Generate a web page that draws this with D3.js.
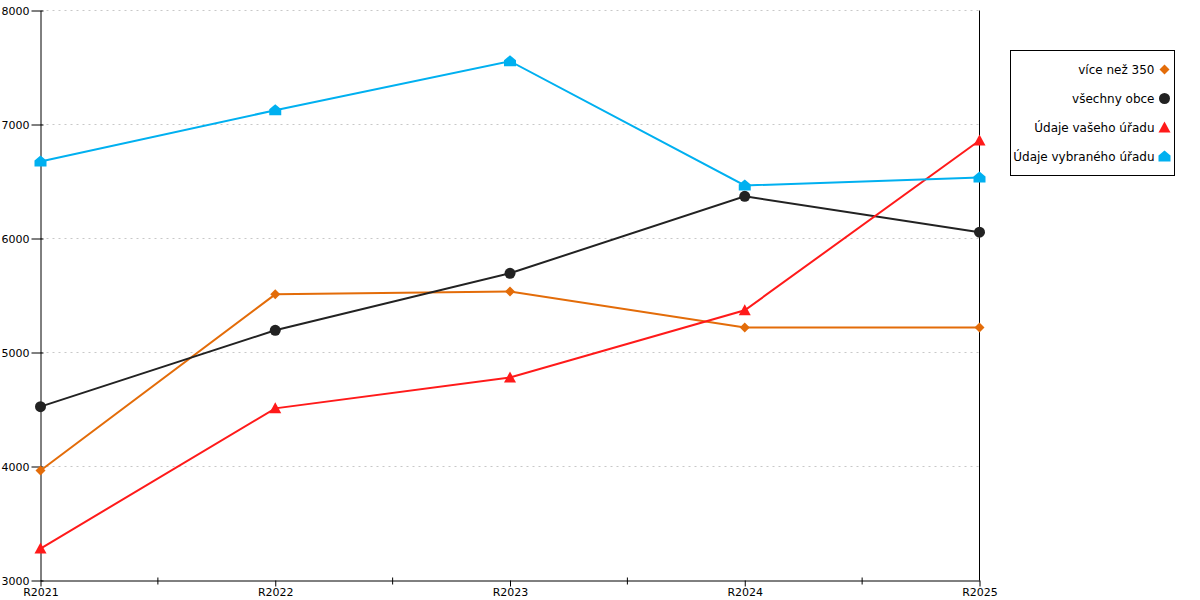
<!DOCTYPE html>
<html>
<head>
<meta charset="utf-8">
<script src="https://cdn.jsdelivr.net/npm/d3@7"></script>
<style>
  body { margin: 0; background: #fff; }
  text { font-family: "DejaVu Sans", sans-serif; font-size: 11px; fill: #000; }
</style>
</head>
<body>
<div id="chart"></div>
<script>
// data
const categories = ["R2021", "R2022", "R2023", "R2024", "R2025"];
const seriesNames = ["více než 350", "všechny obce", "Údaje vašeho úřadu", "Údaje vybraného úřadu"];
const viceNez350 = [3965, 5510, 5535, 5220, 5220];
const vsechnyObce = [4525, 5195, 5695, 6370, 6055];
const vasehoUradu = [3280, 4510, 4780, 5370, 6860];
const vybranehoUradu = [6675, 7125, 7555, 6465, 6535];
const yTicks = [3000, 4000, 5000, 6000, 7000, 8000];

const seriesColors = ["#E36C09", "#222222", "#FF1A1A", "#00B0F0"];
const seriesShapes = ["diamond", "circle", "triangle", "house"];
const seriesValues = [viceNez350, vsechnyObce, vasehoUradu, vybranehoUradu];

(function () {
  const W = 1200, H = 600;
  const margin = { top: 10.5, left: 40.5 },
    width = 939,
    height = 570;

  const svg = d3.select("#chart").append("svg")
    .attr("width", W).attr("height", H);
  const g = svg.append("g")
    .attr("transform", `translate(${margin.left},${margin.top})`);

  const x = d3.scalePoint().domain(categories).range([0, width]);
  const y = d3.scaleLinear().domain([3000, 8000]).range([height, 0]);

  // dashed grid lines
  g.append("g").selectAll("line")
    .data(yTicks.filter(d => d > 3000))
    .join("line")
    .attr("x1", 0).attr("x2", width)
    .attr("y1", d => y(d)).attr("y2", d => y(d))
    .attr("stroke", "#c8c8c8")
    .attr("stroke-dasharray", "2,4");

  // Y axis
  const yAxis = g.append("g")
    .call(d3.axisLeft(y).tickValues(yTicks).tickSize(9).tickSizeOuter(0).tickPadding(2).tickFormat(d3.format("d")));
  yAxis.select(".domain").attr("stroke", "#000");
  yAxis.selectAll(".tick line").attr("x2", -9).attr("x1", 3);

  // X axis with minor ticks between categories
  const xAxis = g.append("g")
    .attr("transform", `translate(0,${height})`)
    .call(d3.axisBottom(x).tickSize(6).tickSizeOuter(0).tickPadding(2));
  xAxis.select(".domain").attr("stroke", "#000");
  const step = x.step();
  xAxis.selectAll(".minor")
    .data(categories.slice(1))
    .join("line")
    .attr("class", "minor")
    .attr("x1", d => x(d) - step / 2).attr("x2", d => x(d) - step / 2)
    .attr("y1", -3).attr("y2", 4)
    .attr("stroke", "#000");

  // right-hand vertical line
  g.append("line")
    .attr("x1", width).attr("x2", width)
    .attr("y1", 0).attr("y2", height)
    .attr("stroke", "#000");

  const line = d3.line()
    .x((d, i) => x(categories[i]))
    .y(d => y(d));

  function marker(sel, shape, color) {
    if (shape === "diamond") {
      sel.append("path").attr("d", "M0,-5L5,0L0,5L-5,0Z").attr("fill", color);
    } else if (shape === "circle") {
      sel.append("circle").attr("r", 5.5).attr("fill", color);
    } else if (shape === "triangle") {
      sel.append("path").attr("d", "M0,-6L6,5L-6,5Z").attr("fill", color);
    } else {
      sel.append("path").attr("d", "M0,-6L6,-1L6,5L-6,5L-6,-1Z").attr("fill", color);
    }
  }

  seriesValues.forEach((vals, s) => {
    g.append("path")
      .datum(vals)
      .attr("fill", "none")
      .attr("stroke", seriesColors[s])
      .attr("stroke-width", 2)
      .attr("d", line);
    g.append("g").selectAll("g")
      .data(vals)
      .join("g")
      .attr("transform", (d, i) => `translate(${x(categories[i])},${y(d)})`)
      .each(function () { marker(d3.select(this), seriesShapes[s], seriesColors[s]); });
  });

  // legend
  const legend = svg.append("g").attr("transform", "translate(1010.5,50.5)");
  legend.append("rect")
    .attr("width", 164).attr("height", 125)
    .attr("fill", "#fff").attr("stroke", "#000");
  seriesNames.forEach((name, s) => {
    const row = legend.append("g").attr("transform", `translate(0,${19 + s * 29})`);
    row.append("text")
      .attr("x", 144).attr("dy", "0.35em")
      .attr("text-anchor", "end")
      .style("font-size", "12px")
      .text(name);
    const m = row.append("g").attr("transform", "translate(154,0)");
    marker(m, seriesShapes[s], seriesColors[s]);
  });
})();
</script>
</body>
</html>
